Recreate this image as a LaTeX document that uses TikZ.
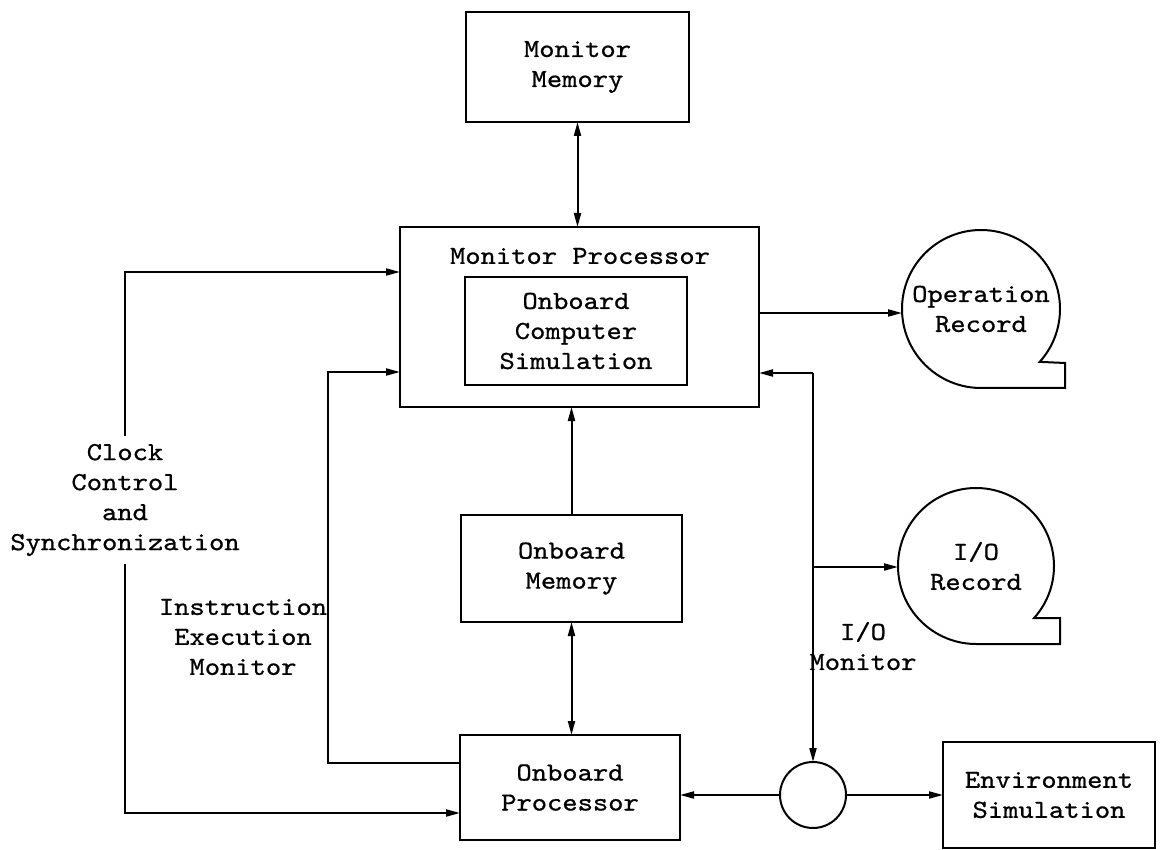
\documentclass[tikz,border=0pt]{standalone}
\usepackage{fontspec}
\newfontfamily\twfont[FakeStretch=1.12, FakeBold=0.8]{lmmono10-regular.otf}
\usetikzlibrary{arrows.meta}

\tikzset{
  txt/.style={font=\twfont\fontsize{26}{30}\selectfont, align=center, inner sep=4pt},
  blk/.style={txt, draw, line width=2pt, rectangle, outer sep=0pt},
  arr/.style={line width=2pt, -{Triangle[length=14pt,width=7pt]}},
  biarr/.style={line width=2pt, {Triangle[length=14pt,width=7pt]}-{Triangle[length=14pt,width=7pt]}},
  tape/.style={txt, circle, outer sep=0pt, inner sep=0pt},
}

\begin{document}
\begin{tikzpicture}[x=1pt, y=1pt, line join=miter]
\useasboundingbox (0,0) rectangle (1160,-850);

% main blocks
\node[blk, minimum width=223pt, minimum height=110pt] (mm) at (577.5,-67) {Monitor\\Memory};
\node[blk, minimum width=359pt, minimum height=180pt] (mp) at (579.5,-317) {};
\node[txt] (mptitle) at (580,-256) {Monitor Processor};
\node[blk, minimum width=222pt, minimum height=108pt] (ocs) at (576,-331) {Onboard\\Computer\\Simulation};
\node[blk, minimum width=221pt, minimum height=107pt] (om) at (571.5,-568.5) {Onboard\\Memory};
\node[blk, minimum width=220pt, minimum height=105pt] (op) at (570,-787.5) {Onboard\\Processor};
\node[blk, minimum width=212pt, minimum height=106pt] (env) at (1049,-795) {Environment\\Simulation};
\node[draw, circle, line width=2pt, minimum size=66pt, inner sep=0pt, outer sep=0pt] (j) at (813,-795) {};

% tape records
\node[tape, minimum size=158pt] (orec) at (981,-309) {Operation\\Record};
\draw[line width=2pt] (orec.-42) arc[start angle=-42, end angle=270, radius=79pt]
  -- ++(84,0) -- ++(0,25) -- cycle;
\node[tape, minimum size=156pt] (iorec) at (976,-566) {I/O\\Record};
\draw[line width=2pt] (iorec.-42) arc[start angle=-42, end angle=270, radius=78pt]
  -- ++(84,0) -- ++(0,26) -- cycle;

% labels
\node[txt, inner sep=8pt] (clk) at (125,-500) {Clock\\Control\\and\\Synchronization};
\node[txt] (iem) at (243,-637) {Instruction\\Execution\\Monitor};
\node[txt] (iom) at (863,-646) {I/O\\Monitor};

% connectors
\draw[biarr] (mm.south) -- (mm.south |- mp.north);
\draw[arr] (clk.north) |- (mp.west |- 0,-272);
\draw[arr] (clk.south) |- (op.west |- 0,-813);
\draw[arr] (op.west |- 0,-763) -| (328,-372) -- (mp.west |- 0,-372);
\draw[arr] (om.north) -- (om.north |- mp.south);
\draw[biarr] (om.south) -- (om.south |- op.north);
\draw[arr] (mp.east |- 0,-313) -- (orec.west |- 0,-313);
\coordinate (io) at (813,-373);
\draw[arr] (io) -- (mp.east |- io);
\draw[arr] (io) -- (j.north);
\draw[arr] (j.north |- 0,-567) -- (iorec.west |- 0,-567);
\draw[arr] (j.west) -- (op.east |- j.west);
\draw[arr] (j.east) -- (env.west |- j.east);
\end{tikzpicture}
\end{document}
